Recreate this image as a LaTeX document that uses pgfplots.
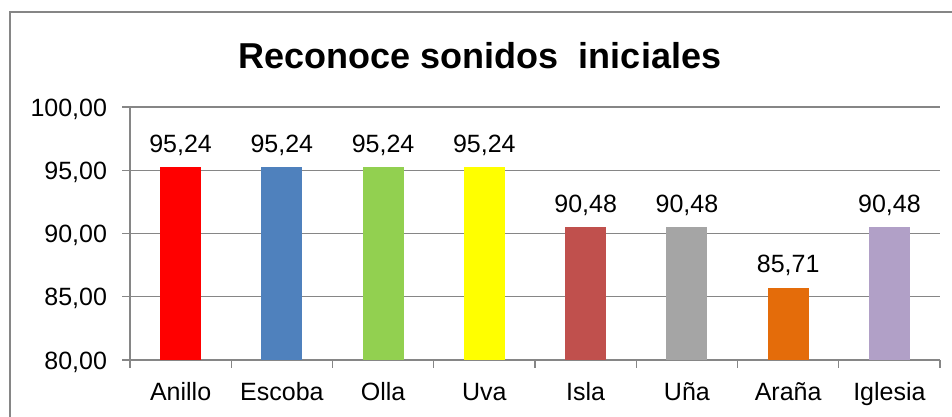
\documentclass[border=0pt]{standalone}
\usepackage{pgfplots}
\pgfplotsset{compat=1.18}
\usepackage{fontspec}
\setmainfont{Liberation Sans}
\definecolor{axgray}{HTML}{868686}
\definecolor{c1}{HTML}{FF0000}
\definecolor{c2}{HTML}{4F81BD}
\definecolor{c3}{HTML}{92D050}
\definecolor{c4}{HTML}{FFFF00}
\definecolor{c5}{HTML}{C0504D}
\definecolor{c6}{HTML}{A5A5A5}
\definecolor{c7}{HTML}{E46C0A}
\definecolor{c8}{HTML}{B1A0C7}
\begin{document}
\begin{tikzpicture}
\fill[white] (0pt,0pt) rectangle (952pt,416pt);
\draw[axgray, line width=1.5pt] (10pt,404pt) rectangle (980pt,-20pt);
\node[font=\fontsize{36}{40}\selectfont\bfseries, anchor=base] at (480pt,348pt) {Reconoce sonidos\ \ iniciales};
\begin{axis}[
  at={(130pt,56pt)}, anchor=south west,
  scale only axis, width=810pt, height=253pt,
  ybar, bar width=41pt, bar shift=0pt,
  xmin=-0.5, xmax=7.5, ymin=80, ymax=100,
  ytick={80,85,...,100},
  axis x line*=bottom, axis y line*=left,
  axis line style={axgray, line width=1.2pt},
  ymajorgrids, major grid style={axgray, line width=1.2pt},
  tick align=outside,
  tick style={axgray, line width=1.2pt},
  major tick length=7.5pt,
  xtick={-0.5,0.5,...,7.5},
  x tick label as interval,
  xticklabels={Anillo,Escoba,Olla,Uva,Isla,Uña,Araña,Iglesia},
  /pgf/number format/assume math mode=true,
  yticklabel={\pgfmathprintnumber[fixed,zerofill,precision=2,use comma]{\tick}},
  ticklabel style={font=\fontsize{25}{30}\selectfont},
  xticklabel style={anchor=base, yshift=-33pt},
  yticklabel style={anchor=base east, xshift=-12pt, yshift=-9pt},
  nodes near coords={\pgfmathprintnumber[fixed,zerofill,precision=2,use comma,assume math mode=true]{\pgfplotspointmeta}},
  every node near coord/.append style={font=\fontsize{25}{30}\selectfont, anchor=base, yshift=15pt, text=black},
  clip=false,
]
\addplot[fill=c1, draw=none] coordinates {(0,95.24)};
\addplot[fill=c2, draw=none] coordinates {(1,95.24)};
\addplot[fill=c3, draw=none] coordinates {(2,95.24)};
\addplot[fill=c4, draw=none] coordinates {(3,95.24)};
\addplot[fill=c5, draw=none] coordinates {(4,90.48)};
\addplot[fill=c6, draw=none] coordinates {(5,90.48)};
\addplot[fill=c7, draw=none] coordinates {(6,85.71)};
\addplot[fill=c8, draw=none] coordinates {(7,90.48)};
\end{axis}
\pgfresetboundingbox
\path[use as bounding box] (0pt,0pt) rectangle (952pt,416pt);
\end{tikzpicture}
\end{document}
